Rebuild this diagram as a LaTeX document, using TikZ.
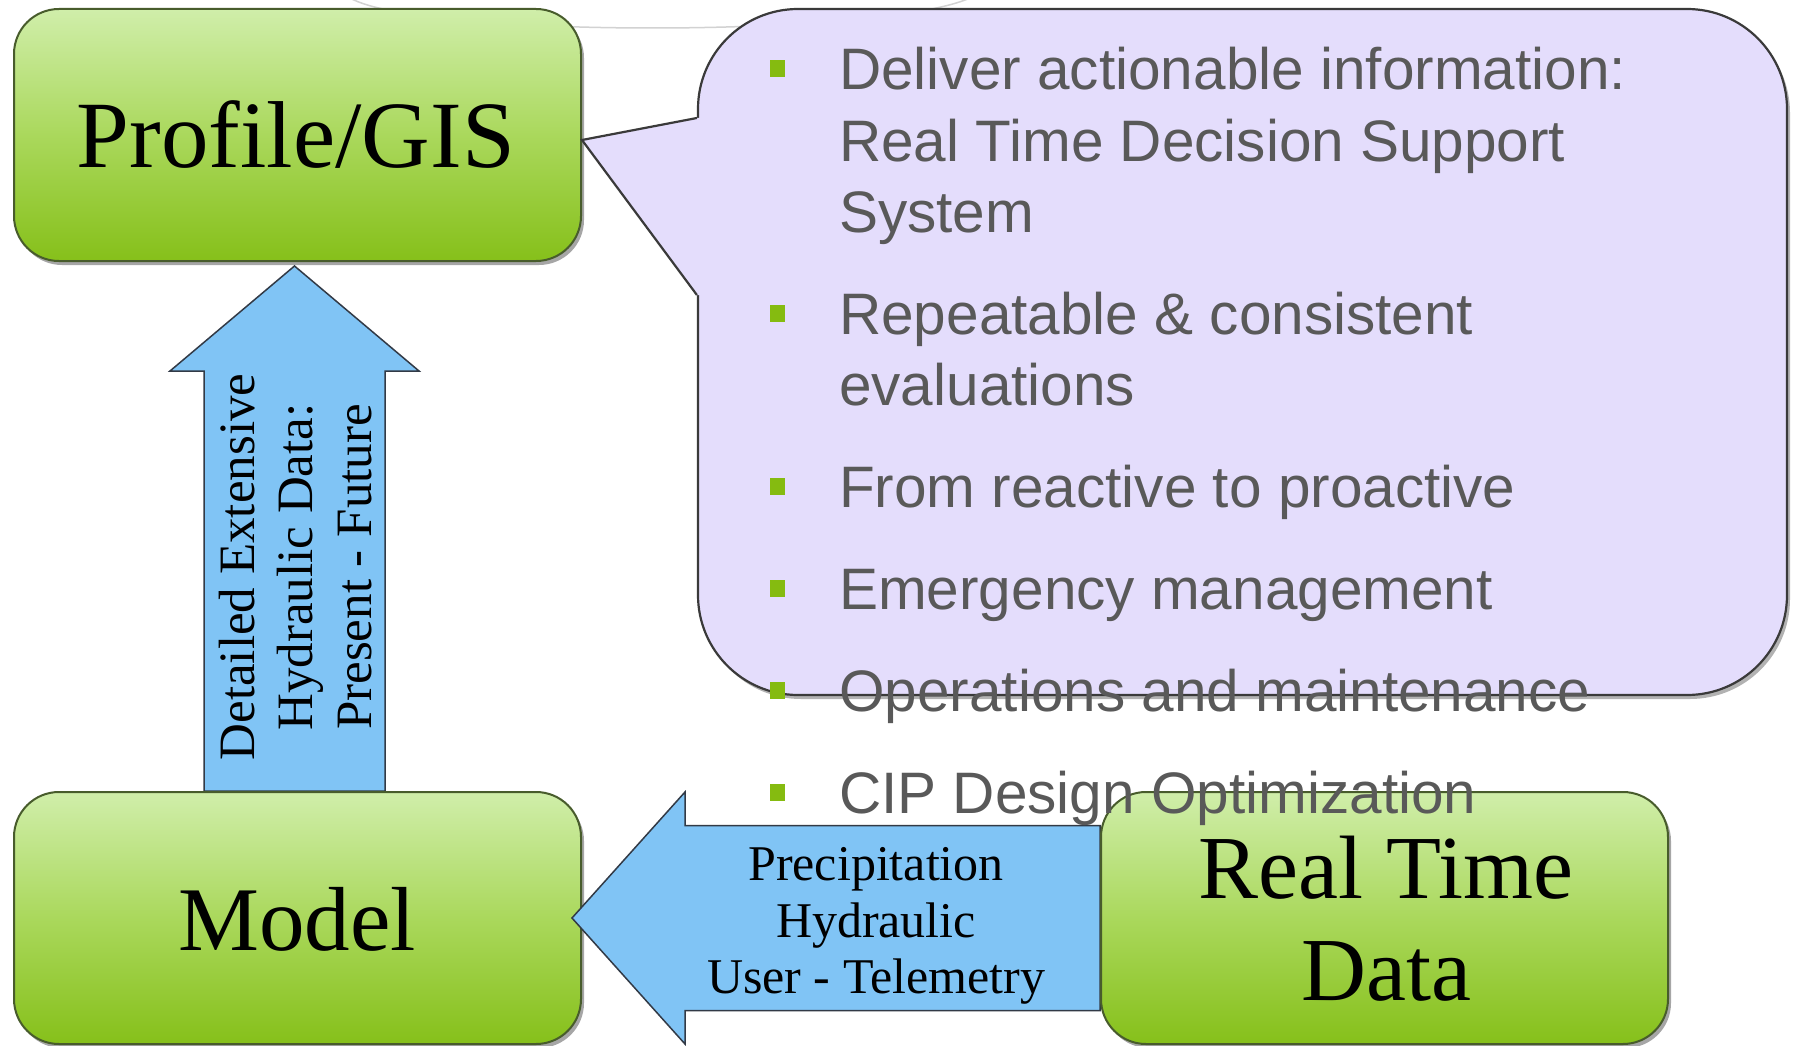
\documentclass[tikz,border=0pt]{standalone}
\usepackage{fontspec}
\setmainfont{Liberation Serif}
\newfontfamily\bulletfont{Liberation Sans}
\usetikzlibrary{calc,shadows}

\definecolor{boxtop}{RGB}{208,238,170}
\definecolor{boxmid}{RGB}{170,216,92}
\definecolor{boxbot}{RGB}{134,192,26}
\definecolor{boxedge}{RGB}{72,92,44}
\definecolor{arrowblue}{RGB}{128,196,245}
\definecolor{arrowedge}{RGB}{50,58,70}
\definecolor{lavender}{RGB}{228,221,252}
\definecolor{calloutedge}{RGB}{58,58,58}
\definecolor{textgray}{RGB}{89,89,89}
\definecolor{bulletgreen}{RGB}{133,187,16}
\definecolor{faintgray}{RGB}{210,210,210}

\pgfdeclarelayer{bgzero}
\pgfdeclarelayer{bgone}
\pgfsetlayers{bgzero,bgone,main}

\begin{document}
\begin{tikzpicture}[x=1pt,y=-1pt,
  greenbox/.style={draw=boxedge, line width=2pt, rounded corners=45pt,
    top color=boxtop, bottom color=boxbot, middle color=boxmid,
    minimum width=567pt, minimum height=252pt, inner sep=0pt,
    drop shadow={shadow xshift=3pt, shadow yshift=-4pt, opacity=0.35, fill=black}},
  boxlabel/.style={inner sep=0pt, anchor=base, text=black},
  blockarrow/.style={fill=arrowblue, draw=arrowedge, line width=1.5pt, line join=miter},
  arrowlabel/.style={inner sep=0pt, anchor=base, text=black, font=\fontsize{50}{57}\selectfont},
  calloutbox/.style={fill=lavender, draw=calloutedge, line width=2.2pt, rounded corners=100pt,
    minimum width=1089pt, minimum height=686pt, inner sep=0pt,
    drop shadow={shadow xshift=3pt, shadow yshift=-4pt, opacity=0.3, fill=black}},
  bullettext/.style={inner sep=0pt, anchor=base west, text=textgray,
    font=\bulletfont\fontsize{58.5}{71}\selectfont},
  bulletsq/.style={fill=bulletgreen, minimum width=15pt, minimum height=17pt, inner sep=0pt}
]
\useasboundingbox (0,0) rectangle (1793,1046);

% boxes
\node[greenbox] (gis) at (297.5,135) {};
\node[greenbox] (rtd) at (1384.5,918) {};
\begin{pgfonlayer}{bgone}
  \node[greenbox] (model) at (297.5,918) {};
\end{pgfonlayer}

% callout with its pointer towards the Profile/GIS box
\node[calloutbox] (call) at (1242.5,352) {};
\coordinate (ptip) at ($(gis.east)+(0,5)$);
\coordinate (pup) at ($(call.west)+(0,-234)$);
\coordinate (plow) at ($(call.west)+(0,-57)$);
\fill[lavender] (ptip) -- (pup) -- ($(pup)+(6,0)$) -- ($(plow)+(6,0)$) -- (plow) -- cycle;
\draw[calloutedge, line width=2.2pt, line join=miter] (pup) -- (ptip) -- (plow);

% background line and the upward block arrow
\begin{pgfonlayer}{bgzero}
  \fill[white] (0,0) rectangle (1793,1046);
  \draw[faintgray, line width=1.5pt] (350,-2) .. controls (420,38) and (880,38) .. (970,-2);
  \coordinate (upbase) at ($(model.north)+(-3,0)$);
  \coordinate (uptip) at ($(gis.south)+(-3,4)$);
  \draw[blockarrow] ($(upbase)+(-90.5,0)$) -- ($(upbase)+(-90.5,-420)$)
    -- ($(upbase)+(-124.5,-420)$) -- (uptip) -- ($(upbase)+(124.5,-420)$)
    -- ($(upbase)+(90.5,-420)$) -- ($(upbase)+(90.5,0)$) -- cycle;
\end{pgfonlayer}

% leftward block arrow from Real Time Data to Model
\begin{pgfonlayer}{bgone}
  \coordinate (lbase) at (rtd.west);
  \coordinate (ltip) at ($(model.east)+(-10,0)$);
  \draw[blockarrow] ($(lbase)+(0,-92.5)$) -- ($(lbase)+(-415,-92.5)$)
    -- ($(lbase)+(-415,-126)$) -- (ltip) -- ($(lbase)+(-415,126)$)
    -- ($(lbase)+(-415,92.5)$) -- ($(lbase)+(0,92.5)$) -- cycle;
\end{pgfonlayer}

% box labels
\node[boxlabel, font=\fontsize{95}{100}\selectfont] (gistext) at (296,167) {Profile/GIS};
\node[boxlabel, font=\fontsize{91}{100}\selectfont] (modeltext) at (297,950) {Model};
\node[boxlabel, font=\fontsize{90}{100}\selectfont] (rtdtext1) at (1386,898) {Real Time};
\node[boxlabel, font=\fontsize{90}{100}\selectfont] (rtdtext2) at (1386,1000) {Data};

% arrow labels
\node[arrowlabel] (lt1) at (876,880) {Precipitation};
\node[arrowlabel] (lt2) at (876,937) {Hydraulic};
\node[arrowlabel] (lt3) at (876,993) {User - Telemetry};
\node[arrowlabel, rotate=90, font=\fontsize{51}{58}\selectfont] (ut1) at (254,567) {Detailed Extensive};
\node[arrowlabel, rotate=90, font=\fontsize{51}{58}\selectfont] (ut2) at (312,567) {Hydraulic Data:};
\node[arrowlabel, rotate=90, font=\fontsize{51}{58}\selectfont] (ut3) at (371,567) {Present - Future};

% bullet list
\foreach \b [count=\i] in {90,334,507,609,711,813}
  \node[bulletsq] (sq\i) at (777.5,\b-21) {};
\node[bullettext] (t1) at (839,90) {Deliver actionable information:};
\node[bullettext] (t2) at (839,161) {Real Time Decision Support};
\node[bullettext] (t3) at (839,232) {System};
\node[bullettext] (t4) at (839,334) {Repeatable \& consistent};
\node[bullettext] (t5) at (839,405) {evaluations};
\node[bullettext] (t6) at (839,507) {From reactive to proactive};
\node[bullettext] (t7) at (839,609) {Emergency management};
\node[bullettext] (t8) at (839,711) {Operations and maintenance};
\node[bullettext] (t9) at (839,813) {CIP Design Optimization};
\end{tikzpicture}
\end{document}
